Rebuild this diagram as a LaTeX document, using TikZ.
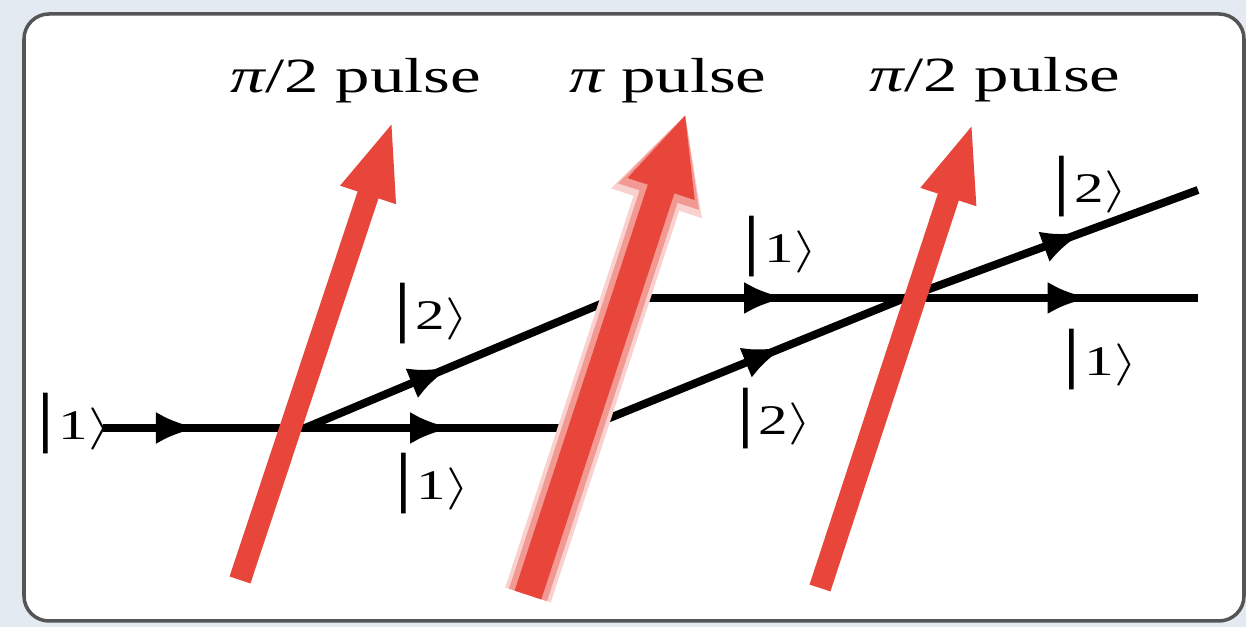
\documentclass[tikz,border=0pt]{standalone}
\usepackage{fontspec}
\setmainfont{Liberation Serif}
\usepackage{graphicx}
\usetikzlibrary{arrows.meta,decorations.markings,positioning}
\definecolor{pulsered}{RGB}{232,70,58}
\definecolor{paneblue}{RGB}{228,234,242}
\definecolor{framegray}{RGB}{85,85,85}
\newcommand{\wide}[1]{\scalebox{1.4}[1]{#1}}
\newcommand{\ketlbl}[1]{\wide{{\fontsize{19}{19}\selectfont|}\kern0.05em#1$\big\rangle$}}

\begin{document}
\begin{tikzpicture}[
  x=1cm,y=1cm,>=Latex,
  beam/.style={line width=0.08cm,black},
  flow/.style={postaction={decorate},decoration={markings,
      mark=at position #1 with {\arrow{Latex[length=0.42cm,width=0.32cm]}}}},
  pulse/.style={line width=0.22cm,pulsered,-{Triangle[width=0.52cm,length=0.79cm]}},
  state/.style={font=\fontsize{12}{14}\selectfont,inner sep=0pt},
  title/.style={font=\fontsize{14}{16}\selectfont,anchor=base,inner sep=0pt}
]
  \fill[paneblue] (0,0) rectangle (12.46,6.27);
  \useasboundingbox (0,0) rectangle (12.46,6.27);
  \draw[framegray,line width=1pt,fill=white,rounded corners=0.25cm]
    (0.24,0.06) rectangle (12.44,6.13);

  % interferometer arms
  \coordinate (src) at (1.03,1.99);
  \coordinate (s1) at (3.05,1.99);
  \coordinate (t1) at (6.15,3.29);
  \coordinate (t2) at (5.85,1.99);
  \coordinate (s3) at (9.05,3.29);
  \coordinate (o1) at (11.98,3.29);
  \coordinate (o2) at (11.98,4.37);

  \draw[beam,flow=0.47] (src) -- (s1);
  \draw[beam,flow=0.47] (s1) -- (t1);
  \draw[beam,flow=0.525] (s1) -- (t2);
  \draw[beam,flow=0.59] (t1) -- (s3);
  \draw[beam,flow=0.63] (s3) -- (o1);
  \draw[beam,flow=0.625] (t2) -- (s3);
  \draw[beam,flow=0.61] (s3) -- (o2);

  \node[state] (in) at (0.74,2.03) {\ketlbl{1}};
  \node[state] (up2) at (4.31,3.13) {\ketlbl{2}};
  \node[state] (lo1) at (4.32,1.43) {\ketlbl{1}};
  \node[state] (up1) at (7.80,3.80) {\ketlbl{1}};
  \node[state] (lo2) at (7.74,2.08) {\ketlbl{2}};
  \node[state] (out2) at (10.90,4.40) {\ketlbl{2}};
  \node[state] (out1) at (11.00,2.67) {\ketlbl{1}};

  % laser pulses
  \coordinate (p1a) at (2.40,0.47);
  \coordinate (p1b) at (3.93,5.07);
  \coordinate (p2a) at (5.28,0.32);
  \coordinate (p2b) at (6.86,5.14);
  \coordinate (p3a) at (8.20,0.39);
  \coordinate (p3b) at (9.73,5.05);

  \draw[pulse] (p1a) -- (p1b);
  \draw[pulse,line width=0.48cm,pulsered!25,
    -{Triangle[width=0.88cm,length=0.95cm]}] (p2a) -- (p2b);
  \draw[pulse,line width=0.40cm,pulsered!55,
    -{Triangle[width=0.78cm,length=0.88cm]}] (p2a) -- (p2b);
  \draw[pulse,line width=0.28cm,
    -{Triangle[width=0.64cm,length=0.80cm]}] (p2a) -- (p2b);
  \draw[pulse] (p3a) -- (p3b);

  \node[title] (half1) at (3.56,5.34) {\wide{{\itshape π}/2 pulse}};
  \node[title] (full) at (6.68,5.34) {\wide{{\itshape π} pulse}};
  \node[title] (half2) at (9.95,5.35) {\wide{{\itshape π}/2 pulse}};
\end{tikzpicture}
\end{document}
